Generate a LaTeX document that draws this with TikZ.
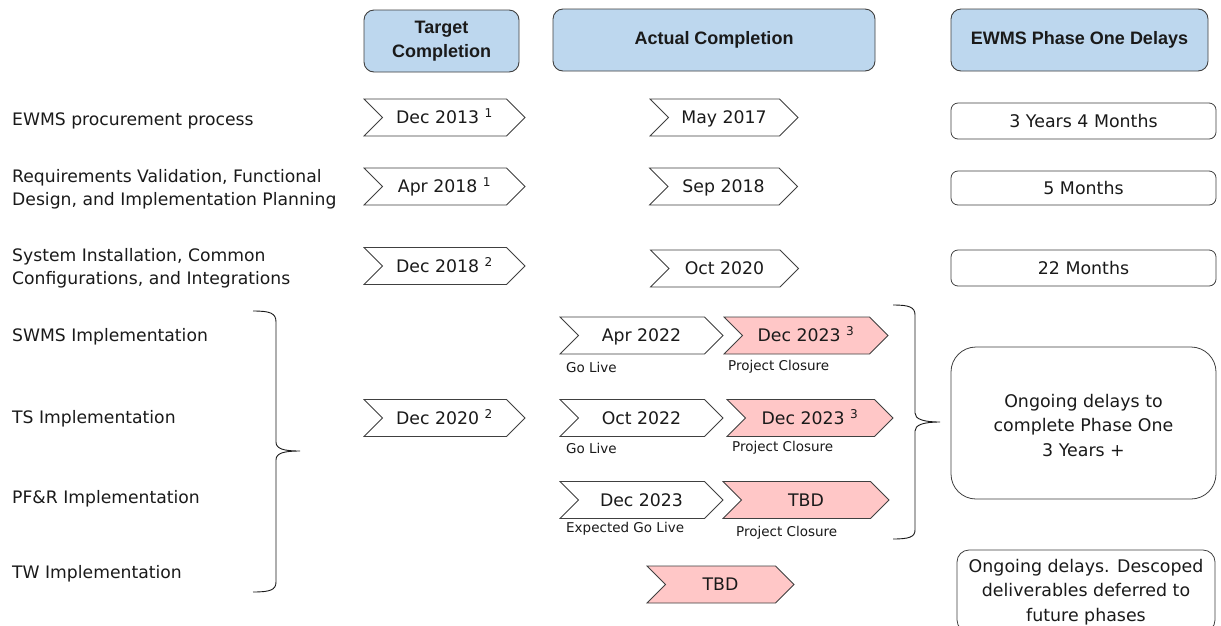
\documentclass[tikz,border=0pt]{standalone}
\usepackage{fontspec}
\setmainfont{DejaVu Sans}
\newfontfamily\headfont{Liberation Sans}
\usetikzlibrary{shapes.symbols}
\definecolor{hdrblue}{HTML}{BDD7EE}
\definecolor{pinkfill}{HTML}{FFC7C7}
\definecolor{edgegray}{HTML}{404040}
\definecolor{ink}{HTML}{1A1A1A}
\newcommand{\stackedtext}[2]{\raisebox{#1}[\height][\depth]{\begin{tabular}{@{}c@{}}#2\end{tabular}}}
\begin{document}
\begin{tikzpicture}[x=1pt,y=-1pt,
 every node/.style={text=ink},
 hdr/.style={draw=edgegray, fill=hdrblue, rounded corners=10pt, line width=0.9pt,
   font=\headfont\bfseries\fontsize{18}{24}\selectfont, align=center, minimum height=62pt, inner sep=0pt},
 chev/.style={shape=signal, signal from=west, signal to=east, signal pointer angle=90,
   draw=edgegray, line width=0.8pt, minimum height=37pt, inner sep=0pt,
   text height=12.6pt, text depth=0pt, font=\fontsize{17.3}{20}\selectfont},
 late/.style={chev, fill=pinkfill},
 rowlbl/.style={anchor=west, align=left, font=\fontsize{17.2}{23}\selectfont, inner sep=0pt},
 sublbl/.style={anchor=west, inner sep=0pt, font=\fontsize{13.5}{16}\selectfont},
 delay/.style={draw=edgegray, rounded corners=7pt, line width=0.8pt, minimum width=265pt,
   inner sep=0pt, text height=12.6pt, text depth=0pt, font=\fontsize{17.4}{20}\selectfont},
 bigbox/.style={draw=edgegray, line width=0.8pt, font=\fontsize{17.4}{24.5}\selectfont, inner sep=0pt},
 bracepath/.style={draw=ink, line width=0.9pt}
]
\clip (0,0) rectangle (1221,625);
\fill[white] (0,0) rectangle (1221,625);

% headers
\node[hdr, minimum width=155pt] (hT) at (441.5,41) {Target\\Completion};
\node[hdr, minimum width=322pt] (hA) at (714,40) {Actual Completion};
\node[hdr, minimum width=257pt] (hE) at (1079.5,40) {EWMS Phase One Delays};

% row labels
\node[rowlbl] (r1) at (12,121) {EWMS procurement process};
\node[rowlbl] (r2) at (12,189.5) {Requirements Validation, Functional\\Design, and Implementation Planning};
\node[rowlbl] (r3) at (12,268.5) {System Installation, Common\\Configurations, and Integrations};
\node[rowlbl] (r4) at (12,337) {SWMS Implementation};
\node[rowlbl] (r5) at (12,419) {TS Implementation};
\node[rowlbl] (r6) at (12,499) {PF\&R Implementation};
\node[rowlbl] (r7) at (12,574) {TW Implementation};

% target chevrons
\node[chev, minimum width=161pt] (t1) at (444.5,117.5) {Dec 2013 \textsuperscript{1}};
\node[chev, minimum width=161pt] (t2) at (444.5,186.5) {Apr 2018 \textsuperscript{1}};
\node[chev, minimum width=161pt] (t3) at (444.5,266) {Dec 2018 \textsuperscript{2}};
\node[chev, minimum width=161pt] (t4) at (444.5,418) {Dec 2020 \textsuperscript{2}};

% actual chevrons
\node[chev, minimum width=148pt] (a1) at (724,117.5) {May 2017};
\node[chev, minimum width=148pt] (a2) at (723.5,186.5) {Sep 2018};
\node[chev, minimum width=148pt] (a3) at (724.5,268.5) {Oct 2020};

\node[chev, minimum width=163pt] (g1) at (641.5,335.5) {Apr 2022};
\node[late, minimum width=164pt] (p1) at (806,335.5) {Dec 2023 \textsuperscript{3}};
\node[chev, minimum width=163pt] (g2) at (641.5,418) {Oct 2022};
\node[late, minimum width=166pt] (p2) at (810,418) {Dec 2023 \textsuperscript{3}};
\node[chev, minimum width=163pt] (g3) at (641.5,500) {Dec 2023};
\node[late, minimum width=166pt] (p3) at (806,500) {TBD};
\node[late, minimum width=147pt] (tw) at (720.5,584.5) {TBD};

\node[sublbl] (s1) at (566,367) {Go Live};
\node[sublbl] (s2) at (728,367) {Project Closure};
\node[sublbl] (s3) at (566,448) {Go Live};
\node[sublbl] (s4) at (732,448) {Project Closure};
\node[sublbl] (s5) at (566,529) {Expected Go Live};
\node[sublbl] (s6) at (736,533) {Project Closure};

% delay boxes
\node[delay, minimum height=36pt] (d1) at (1083.5,121) {3 Years 4 Months};
\node[delay, minimum height=34pt] (d2) at (1083.5,188) {5 Months};
\node[delay, minimum height=36pt] (d3) at (1083.5,268) {22 Months};
\node[bigbox, rounded corners=25pt, minimum width=265pt, minimum height=152pt] (d4) at (1083.5,423)
  {\stackedtext{-4pt}{Ongoing delays to\\complete Phase One\\3 Years +}};
\node[bigbox, rounded corners=12pt, minimum width=258pt, minimum height=82pt] (d5) at (1086,591)
  {\stackedtext{-1pt}{Ongoing delays. Descoped\\deliverables deferred to\\future phases}};

% braces
\draw[bracepath] (253,311) .. controls (270,311) and (276,313) .. (276,322) -- (276,442)
  .. controls (276,449) and (284,451) .. (300,451)
  .. controls (284,451) and (276,453) .. (276,460) -- (276,582)
  .. controls (276,590) and (270,592) .. (253,592);
\draw[bracepath] (893,305) .. controls (909,305) and (915,307) .. (915,315) -- (915,413)
  .. controls (915,419) and (923,422) .. (940,422)
  .. controls (923,422) and (915,425) .. (915,431) -- (915,530)
  .. controls (915,537) and (909,539) .. (893,539);
\end{tikzpicture}
\end{document}
